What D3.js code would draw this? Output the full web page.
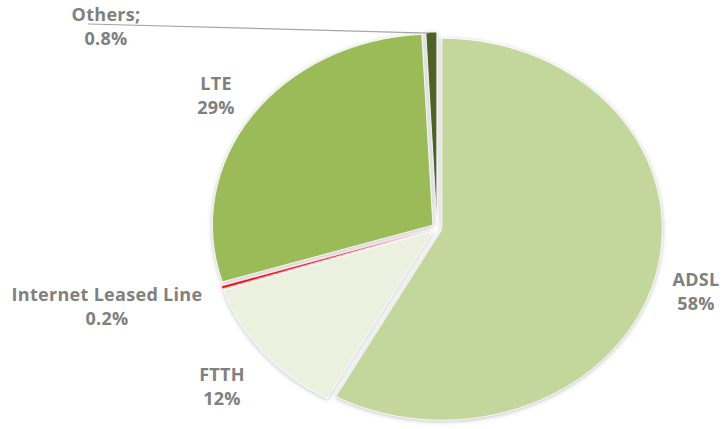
<!DOCTYPE html>
<html>
<head>
<meta charset="utf-8">
<script src="https://cdn.jsdelivr.net/npm/d3@7"></script>
<style>
  body { margin: 0; background: #fff; }
  svg { display: block; }
  .lbl { font-family: "Open Sans", sans-serif; font-weight: 700; font-size: 18px; fill: #808080; letter-spacing: 0.3px; }
</style>
</head>
<body>
<svg id="chart"></svg>
<script>
// chart data
const categories = ['ADSL', 'FTTH', 'Internet Leased Line', 'LTE', 'Others'];
const shares = [58, 12, 0.2, 29, 0.8];
const labelNames = ['ADSL', 'FTTH', 'Internet Leased Line', 'LTE', 'Others;'];
const labelValues = ['58%', '12%', '0.2%', '29%', '0.8%'];
const colors = ['#c3d69b', '#ebf1de', '#ff0000', '#9bbb59', '#4f6228'];

// label anchor points (layout)
const labelPos = [[696, 280], [222, 375], [107, 295], [216, 84], [106, 15]];

const width = 724, height = 429;
const cx = 437, cy = 228;
const rx = 220.5, ry = 191;
const explode = 5;

const svg = d3.select('#chart')
    .attr('width', width)
    .attr('height', height);

const defs = svg.append('defs');
const shadow = defs.append('filter')
    .attr('id', 'shadow')
    .attr('x', '-10%').attr('y', '-10%')
    .attr('width', '120%').attr('height', '120%');
shadow.append('feDropShadow')
    .attr('dx', 0).attr('dy', 1)
    .attr('stdDeviation', 2)
    .attr('flood-color', '#8a8a9a')
    .attr('flood-opacity', 0.55);

const data = categories.map((c, i) => ({ name: c, value: shares[i], i: i }));

const pie = d3.pie()
    .value(d => d.value)
    .sort(null);

const arc = d3.arc()
    .innerRadius(0)
    .outerRadius(ry);

const arcs = pie(data);
const sx = rx / ry;

const chart = svg.append('g')
    .attr('filter', 'url(#shadow)');

chart.selectAll('path')
    .data(arcs)
    .enter()
    .append('path')
    .attr('transform', d => {
        const a = (d.startAngle + d.endAngle) / 2;
        const ox = cx + explode * Math.sin(a);
        const oy = cy - explode * Math.cos(a);
        return `translate(${ox},${oy}) scale(${sx},1)`;
    })
    .attr('d', arc)
    .attr('fill', d => colors[d.data.i])
    .attr('stroke', '#ffffff')
    .attr('stroke-width', d => d.data.i === 2 ? 0.3 : 0.8);

// leader line for Others
const others = arcs[4];
const oa = (others.startAngle + others.endAngle) / 2;
const lx = cx + explode * Math.sin(oa) + rx * Math.sin(oa) - 3;
const ly = cy - explode * Math.cos(oa) - ry * Math.cos(oa) + 1;
svg.append('line')
    .attr('x1', 88).attr('y1', 24)
    .attr('x2', lx).attr('y2', ly)
    .attr('stroke', '#a6a6a6')
    .attr('stroke-width', 1.2);

// labels
const labels = svg.selectAll('text.lbl')
    .data(arcs)
    .enter()
    .append('text')
    .attr('class', 'lbl')
    .attr('text-anchor', 'middle')
    .attr('x', d => labelPos[d.data.i][0])
    .attr('y', d => labelPos[d.data.i][1]);

labels.append('tspan')
    .attr('x', d => labelPos[d.data.i][0])
    .attr('dy', '0.35em')
    .text(d => labelNames[d.data.i]);

labels.append('tspan')
    .attr('x', d => labelPos[d.data.i][0])
    .attr('dy', 24)
    .text(d => labelValues[d.data.i]);
</script>
</body>
</html>
